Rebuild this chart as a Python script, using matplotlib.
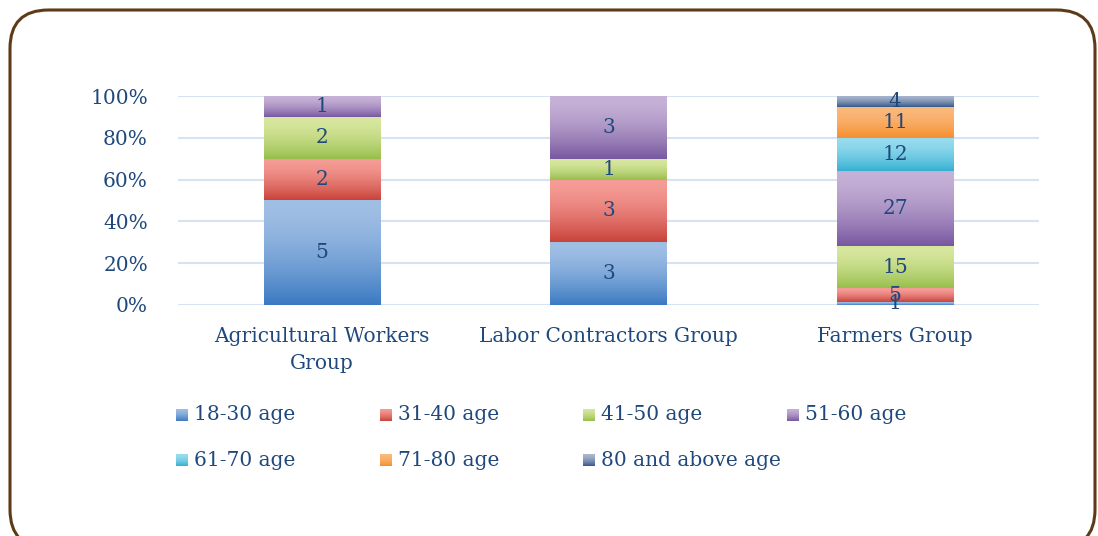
import numpy as np
import matplotlib
matplotlib.use("Agg")
import matplotlib.pyplot as plt
from matplotlib.patches import FancyBboxPatch
from matplotlib.colors import to_rgb

categories = ["Agricultural Workers\nGroup", "Labor Contractors Group", "Farmers Group"]
series = ["18-30 age", "31-40 age", "41-50 age", "51-60 age",
          "61-70 age", "71-80 age", "80 and above age"]
values = {
    "18-30 age": [5, 3, 1],
    "31-40 age": [2, 3, 5],
    "41-50 age": [2, 1, 15],
    "51-60 age": [1, 3, 27],
    "61-70 age": [0, 0, 12],
    "71-80 age": [0, 0, 11],
    "80 and above age": [0, 0, 4],
}
ytick_labels = ["0%", "20%", "40%", "60%", "80%", "100%"]

grad = {
    "18-30 age": ("#a0bfe5", "#3b7ac2"),
    "31-40 age": ("#f69c96", "#c8433a"),
    "41-50 age": ("#d8e79f", "#98bf4c"),
    "51-60 age": ("#c6b2d7", "#7858a0"),
    "61-70 age": ("#98dcef", "#37b0d2"),
    "71-80 age": ("#fab97b", "#f68f2e"),
    "80 and above age": ("#a9b6ce", "#36588a"),
}
txt_color = "#1f497d"
FONT = "DejaVu Serif"
plt.rcParams["font.family"] = FONT
FS = 14.5

W, H = 1098, 536
fig = plt.figure(figsize=(W / 100, H / 100), dpi=100)

def gradient_img(top, bottom, n=64):
    t = np.linspace(0, 1, n) ** 1.6
    c0, c1 = np.array(to_rgb(top)), np.array(to_rgb(bottom))
    img = c0[None, :] * (1 - t[:, None]) + c1[None, :] * t[:, None]
    return img[:, None, :]

ax = fig.add_axes([178.5 / W, 1 - 305 / H, 860 / W, 209 / H])
x = np.arange(len(categories))
totals = np.sum([values[s] for s in series], axis=0)
bottom = np.zeros(len(categories))
width = 0.405
for s in series:
    v = np.array(values[s], dtype=float)
    pct = v / totals * 100
    bars = ax.bar(x, pct, width, bottom=bottom, color="none", edgecolor="none", zorder=2)
    top_c, bot_c = grad[s]
    for rect, val in zip(bars.patches, v):
        if val == 0:
            continue
        bx, by, bw, bh = rect.get_x(), rect.get_y(), rect.get_width(), rect.get_height()
        ax.imshow(gradient_img(top_c, bot_c), extent=[bx, bx + bw, by, by + bh],
                  aspect="auto", zorder=2, interpolation="bilinear")
        ax.text(bx + bw / 2, by + bh / 2, f"{int(val)}", ha="center", va="center",
                fontsize=FS, color=txt_color, zorder=4)
    bottom += pct

ax.set_xlim(-0.5, len(categories) - 0.5)
ax.set_ylim(0, 100)
ax.set_yticks(np.arange(0, 101, 20))
ax.set_yticklabels(ytick_labels)
ax.set_xticks(x)
ax.set_xticklabels(categories, linespacing=1.55)
ax.tick_params(axis="y", length=0, pad=22, labelsize=FS, labelcolor=txt_color)
ax.tick_params(axis="x", length=0, pad=16, labelsize=FS, labelcolor=txt_color)
ax.grid(axis="y", color="#d5e3f3", linewidth=1.5, zorder=0)
ax.set_axisbelow(True)
for sp in ax.spines.values():
    sp.set_visible(False)

# legend (manual grid, 4 columns)
col_x = [176, 380, 583, 787]
row_y = [415, 460]
for i, s in enumerate(series):
    cx = col_x[i % 4]
    cy = row_y[i // 4]
    lax = fig.add_axes([cx / W, 1 - (cy + 6) / H, 12 / W, 12 / H])
    lax.imshow(gradient_img(*grad[s]), aspect="auto", extent=[0, 1, 0, 1], interpolation="bilinear")
    lax.set_axis_off()
    fig.text((cx + 18) / W, 1 - cy / H, s, ha="left", va="center",
             fontsize=FS, color=txt_color)

# rounded border
border = FancyBboxPatch((10 / W, 1 - 548 / H), 1085 / W, 538 / H,
                        boxstyle="round,pad=0,rounding_size=0.035",
                        transform=fig.transFigure, fill=False,
                        edgecolor="#5e3b18", linewidth=2.2, mutation_aspect=W / H)
fig.patches.append(border)

fig.savefig("out.png", dpi=100)
